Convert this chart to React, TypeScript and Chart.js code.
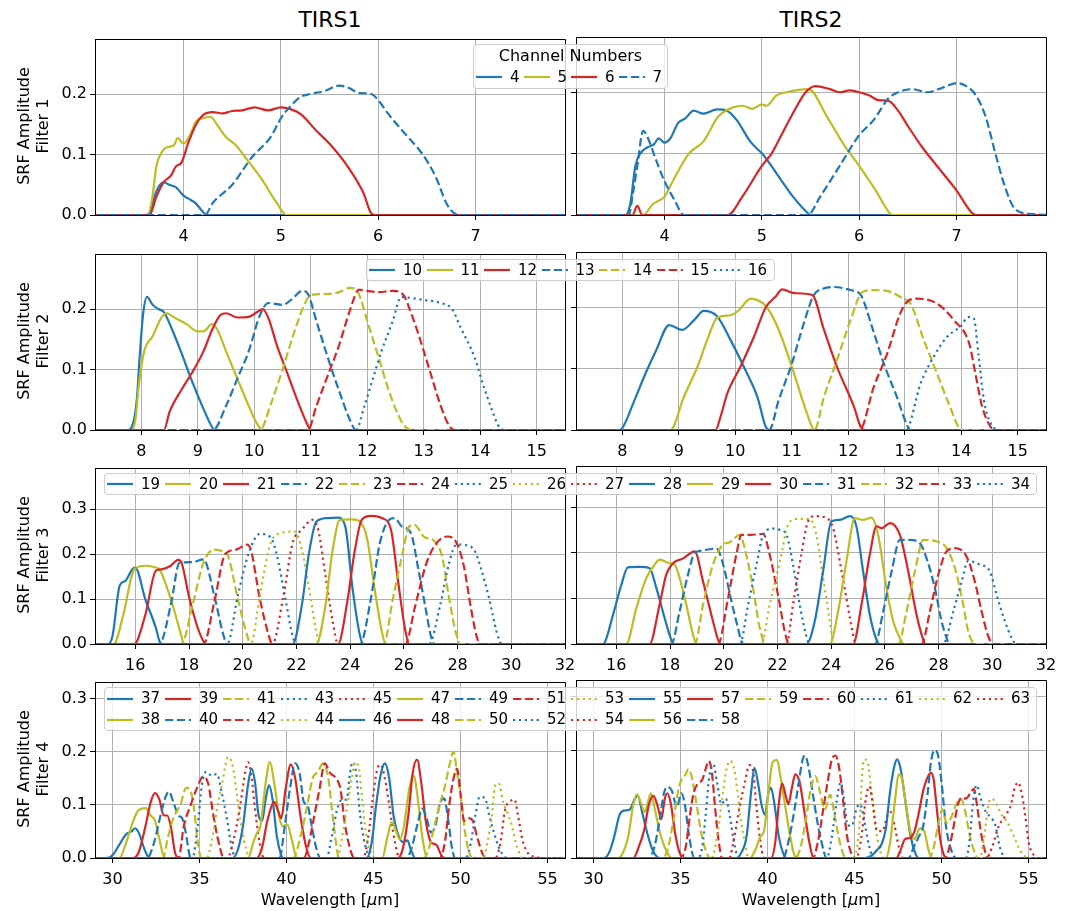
import React, { useEffect, useRef } from "react";
import { Chart, registerables } from "chart.js";
Chart.register(...registerables);

// ---------------- DATA (flat x,y pairs per channel) ----------------
const F1_CHANNELS = [4, 5, 6, 7];
const F1_XLIM = [3.09, 7.92];
const F1_YLIM = [0, 0.29];
const F1_XTICKS = [4, 5, 6, 7];
const F1_YTICKS = [0, 0.1, 0.2];
const F1_TIRS1: number[][] = [
  [3.0,0, 3.6,0, 3.66,0.005, 3.7,0.03, 3.75,0.048, 3.8,0.054, 3.85,0.05, 3.92,0.046, 4.0,0.032, 4.05,0.027, 4.12,0.02, 4.2,0.005, 4.23,0, 8.0,0],
  [3.0,0, 3.63,0, 3.68,0.03, 3.72,0.08, 3.78,0.105, 3.83,0.112, 3.9,0.115, 3.94,0.127, 4.0,0.118, 4.06,0.13, 4.13,0.155, 4.2,0.16, 4.28,0.162, 4.35,0.148, 4.43,0.13, 4.54,0.115, 4.65,0.092, 4.8,0.06, 4.95,0.022, 5.06,0, 8.0,0],
  [3.0,0, 3.65,0, 3.72,0.03, 3.8,0.055, 3.87,0.065, 3.92,0.08, 3.98,0.087, 4.05,0.12, 4.13,0.15, 4.2,0.165, 4.3,0.17, 4.4,0.168, 4.5,0.172, 4.6,0.173, 4.73,0.178, 4.87,0.173, 5.0,0.178, 5.1,0.175, 5.21,0.166, 5.36,0.14, 5.51,0.116, 5.7,0.077, 5.85,0.036, 5.92,0.005, 5.96,0, 8.0,0],
  [3.0,0, 4.22,0, 4.3,0.02, 4.5,0.05, 4.7,0.095, 4.9,0.13, 5.0,0.16, 5.1,0.18, 5.2,0.195, 5.3,0.2, 5.45,0.205, 5.6,0.214, 5.7,0.21, 5.8,0.202, 5.93,0.2, 6.0,0.19, 6.1,0.168, 6.3,0.13, 6.4,0.112, 6.5,0.09, 6.6,0.06, 6.7,0.02, 6.78,0.003, 6.85,0, 8.0,0],
];
const F1_TIRS2: number[][] = [
  [3.0,0, 3.6,0, 3.65,0.02, 3.7,0.08, 3.75,0.1, 3.82,0.11, 3.89,0.115, 3.94,0.125, 4.0,0.118, 4.06,0.125, 4.14,0.15, 4.21,0.157, 4.3,0.17, 4.4,0.165, 4.54,0.172, 4.64,0.17, 4.74,0.155, 4.88,0.12, 5.02,0.097, 5.15,0.068, 5.32,0.03, 5.48,0.002, 5.5,0, 8.0,0],
  [3.0,0, 3.78,0, 3.88,0.018, 4.0,0.03, 4.1,0.06, 4.25,0.1, 4.4,0.12, 4.55,0.16, 4.7,0.175, 4.8,0.178, 4.9,0.173, 5.0,0.18, 5.05,0.178, 5.15,0.195, 5.25,0.2, 5.48,0.205, 5.67,0.16, 5.84,0.115, 6.0,0.08, 6.17,0.04, 6.32,0.002, 6.35,0, 8.0,0],
  [3.0,0, 3.67,0, 3.72,0.015, 3.77,0, 4.65,0, 4.8,0.03, 5.0,0.08, 5.1,0.1, 5.2,0.13, 5.3,0.16, 5.45,0.2, 5.55,0.21, 5.7,0.205, 5.8,0.2, 5.9,0.203, 6.0,0.2, 6.1,0.195, 6.2,0.187, 6.3,0.186, 6.4,0.17, 6.5,0.145, 6.65,0.11, 6.85,0.07, 7.0,0.04, 7.15,0.005, 7.2,0, 8.0,0],
  [3.0,0, 3.63,0, 3.68,0.04, 3.72,0.08, 3.78,0.137, 3.83,0.125, 3.9,0.095, 4.0,0.055, 4.1,0.025, 4.2,0, 5.47,0, 5.6,0.03, 5.8,0.08, 6.0,0.13, 6.15,0.155, 6.3,0.19, 6.4,0.2, 6.55,0.205, 6.7,0.2, 6.85,0.207, 7.0,0.215, 7.1,0.21, 7.2,0.195, 7.3,0.16, 7.4,0.1, 7.5,0.045, 7.6,0.01, 7.75,0.002, 8.0,0],
];

const F2_CHANNELS = [10, 11, 12, 13, 14, 15, 16];
const F2_XLIM = [7.18, 15.5];
const F2_YLIM = [0, 0.29];
const F2_XTICKS = [8, 9, 10, 11, 12, 13, 14, 15];
const F2_YTICKS = [0, 0.1, 0.2];
const F2_TIRS1: number[][] = [
  [7.0,0, 7.75,0, 7.85,0.01, 7.92,0.05, 7.97,0.12, 8.03,0.19, 8.1,0.22, 8.2,0.207, 8.3,0.2, 8.4,0.195, 8.55,0.165, 8.7,0.13, 8.9,0.08, 9.1,0.035, 9.25,0.005, 9.3,0, 16,0],
  [7.0,0, 7.83,0, 7.9,0.02, 7.95,0.07, 8.05,0.13, 8.2,0.155, 8.35,0.185, 8.45,0.193, 8.6,0.185, 8.8,0.175, 9.0,0.163, 9.1,0.163, 9.25,0.175, 9.35,0.165, 9.5,0.13, 9.7,0.085, 9.9,0.04, 10.05,0.01, 10.15,0, 16,0],
  [7.0,0, 8.4,0, 8.5,0.03, 8.7,0.065, 8.9,0.095, 9.1,0.13, 9.25,0.165, 9.4,0.19, 9.5,0.193, 9.7,0.186, 9.9,0.187, 10.05,0.195, 10.15,0.2, 10.25,0.185, 10.4,0.14, 10.6,0.09, 10.8,0.04, 10.95,0.007, 11.0,0, 16,0],
  [7.0,0, 9.27,0, 9.5,0.04, 9.7,0.085, 9.9,0.13, 10.1,0.19, 10.25,0.21, 10.5,0.207, 10.65,0.215, 10.85,0.23, 10.95,0.225, 11.1,0.18, 11.3,0.12, 11.5,0.065, 11.7,0.015, 11.8,0, 16,0],
  [7.0,0, 10.1,0, 10.3,0.045, 10.5,0.1, 10.7,0.16, 10.9,0.21, 11.0,0.223, 11.3,0.225, 11.5,0.228, 11.7,0.235, 11.85,0.225, 12.0,0.18, 12.2,0.12, 12.4,0.06, 12.6,0.015, 12.7,0.003, 12.8,0, 16,0],
  [7.0,0, 10.95,0, 11.1,0.04, 11.3,0.09, 11.5,0.14, 11.7,0.2, 11.85,0.232, 12.0,0.23, 12.2,0.228, 12.45,0.23, 12.65,0.222, 12.75,0.2, 12.9,0.16, 13.1,0.1, 13.3,0.04, 13.45,0.007, 13.55,0, 16,0],
  [7.0,0, 11.8,0, 11.95,0.04, 12.1,0.085, 12.25,0.13, 12.45,0.18, 12.6,0.22, 12.8,0.218, 13.0,0.215, 13.3,0.21, 13.5,0.2, 13.65,0.17, 13.9,0.12, 14.05,0.075, 14.2,0.035, 14.35,0.003, 14.45,0, 16,0],
];
const F2_TIRS2: number[][] = [
  [7.0,0, 7.95,0, 8.0,0.003, 8.2,0.045, 8.41,0.092, 8.6,0.13, 8.83,0.171, 9.06,0.163, 9.27,0.179, 9.44,0.194, 9.68,0.185, 9.92,0.146, 10.15,0.103, 10.39,0.054, 10.54,0.005, 10.6,0, 16,0],
  [7.0,0, 8.85,0, 9.09,0.054, 9.33,0.103, 9.5,0.146, 9.68,0.183, 9.92,0.187, 10.06,0.195, 10.27,0.214, 10.45,0.209, 10.56,0.2, 10.77,0.163, 11.04,0.092, 11.21,0.043, 11.36,0.005, 11.4,0, 16,0],
  [7.0,0, 9.65,0, 9.74,0.022, 9.86,0.06, 10.09,0.103, 10.33,0.152, 10.54,0.2, 10.71,0.217, 10.83,0.229, 11.04,0.223, 11.36,0.22, 11.57,0.163, 11.8,0.103, 12.1,0.038, 12.22,0.005, 12.3,0, 16,0],
  [7.0,0, 10.6,0, 10.77,0.049, 11.0,0.108, 11.21,0.173, 11.39,0.22, 11.55,0.23, 11.74,0.233, 12.04,0.228, 12.22,0.22, 12.42,0.168, 12.63,0.108, 12.86,0.054, 13.04,0.008, 13.1,0, 16,0],
  [7.0,0, 11.4,0, 11.57,0.054, 11.8,0.114, 12.04,0.179, 12.25,0.225, 12.45,0.228, 12.75,0.225, 12.95,0.215, 13.1,0.206, 13.34,0.146, 13.57,0.092, 13.8,0.038, 13.96,0.003, 14.0,0, 16,0],
  [7.0,0, 12.2,0, 12.45,0.07, 12.69,0.125, 12.92,0.19, 13.07,0.211, 13.22,0.214, 13.57,0.206, 13.87,0.179, 14.14,0.141, 14.25,0.092, 14.37,0.038, 14.52,0.005, 14.6,0, 16,0],
  [7.0,0, 13.02,0, 13.28,0.076, 13.51,0.119, 13.75,0.152, 13.98,0.168, 14.13,0.184, 14.22,0.182, 14.31,0.119, 14.4,0.049, 14.52,0.011, 14.7,0, 16,0],
];

const F3_CHANNELS = [19, 20, 21, 22, 23, 24, 25, 26, 27, 28, 29, 30, 31, 32, 33, 34];
const F3_XLIM = [14.5, 32];
const F3_YLIM = [0, 0.39];
const F3_XTICKS = [16, 18, 20, 22, 24, 26, 28, 30, 32];
const F3_YTICKS = [0, 0.1, 0.2, 0.3];
const F3_TIRS1: number[][] = [
  [14,0, 15.0,0, 15.15,0.017, 15.42,0.13, 15.62,0.14, 15.89,0.166, 16.0,0.17, 16.37,0.1, 16.77,0.035, 16.9,0.006, 17.0,0, 33,0],
  [14,0, 15.2,0, 15.55,0.064, 15.96,0.166, 16.37,0.174, 16.77,0.17, 16.9,0.166, 17.32,0.1, 17.72,0.017, 17.8,0, 33,0],
  [14,0, 15.96,0, 16.37,0.064, 16.77,0.163, 16.98,0.166, 17.32,0.174, 17.59,0.187, 17.72,0.181, 17.99,0.108, 18.33,0.035, 18.54,0.006, 18.65,0, 33,0],
  [14,0, 16.9,0, 17.32,0.086, 17.65,0.181, 18.13,0.182, 18.54,0.188, 18.94,0.108, 19.28,0.02, 19.42,0, 33,0],
  [14,0, 17.72,0, 18.13,0.086, 18.54,0.181, 18.94,0.21, 19.21,0.207, 19.42,0.2, 19.82,0.1, 20.16,0.02, 20.3,0, 33,0],
  [14,0, 18.54,0, 18.94,0.093, 19.35,0.2, 19.76,0.21, 20.16,0.221, 20.3,0.21, 20.64,0.1, 20.98,0.017, 21.1,0, 33,0],
  [14,0, 19.42,0, 19.82,0.108, 20.23,0.203, 20.64,0.245, 21.04,0.237, 21.25,0.203, 21.59,0.1, 21.86,0.017, 21.99,0, 33,0],
  [14,0, 20.3,0, 20.64,0.108, 21.04,0.225, 21.45,0.247, 21.93,0.25, 22.2,0.21, 22.47,0.123, 22.74,0.028, 22.87,0, 33,0],
  [14,0, 21.1,0, 21.52,0.108, 21.86,0.225, 22.2,0.254, 22.6,0.276, 22.81,0.254, 23.08,0.152, 23.35,0.05, 23.55,0, 33,0],
  [14,0, 21.86,0, 22.2,0.086, 22.47,0.203, 22.74,0.272, 23.15,0.28, 23.55,0.281, 23.82,0.261, 24.09,0.123, 24.37,0.017, 24.5,0, 33,0],
  [14,0, 22.74,0, 23.08,0.086, 23.35,0.21, 23.62,0.276, 24.09,0.277, 24.37,0.272, 24.64,0.232, 24.91,0.123, 25.18,0.028, 25.32,0, 33,0],
  [14,0, 23.55,0, 23.89,0.093, 24.16,0.203, 24.43,0.276, 24.77,0.285, 25.18,0.28, 25.52,0.254, 25.79,0.137, 26.06,0.028, 26.2,0, 33,0],
  [14,0, 24.37,0, 24.77,0.1, 25.11,0.225, 25.45,0.276, 25.65,0.28, 25.93,0.261, 26.26,0.247, 26.54,0.166, 26.81,0.079, 27.01,0.017, 27.15,0, 33,0],
  [14,0, 25.25,0, 25.59,0.1, 25.93,0.196, 26.2,0.261, 26.4,0.265, 26.74,0.239, 27.15,0.228, 27.42,0.196, 27.69,0.1, 27.96,0.02, 28.1,0, 33,0],
  [14,0, 26.06,0, 26.4,0.079, 26.81,0.174, 27.15,0.219, 27.62,0.239, 27.96,0.225, 28.23,0.174, 28.5,0.079, 28.71,0.017, 28.84,0, 33,0],
  [14,0, 26.94,0, 27.35,0.086, 27.69,0.181, 27.96,0.221, 28.43,0.218, 28.64,0.207, 28.84,0.174, 29.18,0.1, 29.45,0.028, 29.65,0, 33,0],
];
const F3_TIRS2: number[][] = [
  [14,0, 15.5,0, 15.57,0.003, 15.88,0.064, 16.19,0.13, 16.43,0.168, 16.87,0.169, 17.24,0.166, 17.49,0.123, 17.8,0.057, 18.05,0.009, 18.15,0, 33,0],
  [14,0, 16.37,0, 16.75,0.079, 17.12,0.145, 17.43,0.174, 17.61,0.185, 17.99,0.177, 18.17,0.174, 18.55,0.1, 18.86,0.02, 18.98,0, 33,0],
  [14,0, 17.24,0, 17.61,0.086, 17.86,0.152, 18.11,0.177, 18.48,0.187, 18.92,0.203, 19.23,0.137, 19.6,0.05, 19.79,0.009, 19.9,0, 33,0],
  [14,0, 18.05,0, 18.36,0.072, 18.67,0.152, 18.92,0.2, 19.11,0.204, 19.73,0.209, 19.98,0.174, 20.29,0.093, 20.53,0.035, 20.66,0.006, 20.75,0, 33,0],
  [14,0, 18.92,0, 19.23,0.086, 19.6,0.174, 19.98,0.218, 20.22,0.223, 20.6,0.239, 20.78,0.21, 21.09,0.123, 21.34,0.035, 21.53,0.002, 21.6,0, 33,0],
  [14,0, 19.79,0, 20.16,0.1, 20.47,0.196, 20.66,0.239, 20.97,0.239, 21.47,0.241, 21.71,0.196, 22.02,0.108, 22.27,0.028, 22.4,0.002, 22.45,0, 33,0],
  [14,0, 20.6,0, 20.91,0.086, 21.22,0.174, 21.47,0.239, 21.84,0.253, 22.09,0.25, 22.34,0.239, 22.58,0.174, 22.83,0.086, 23.08,0.017, 23.2,0, 33,0],
  [14,0, 21.4,0, 21.71,0.086, 22.09,0.181, 22.4,0.261, 22.71,0.274, 23.2,0.274, 23.45,0.239, 23.7,0.145, 23.95,0.05, 24.07,0.006, 24.15,0, 33,0],
  [14,0, 22.34,0, 22.58,0.086, 22.89,0.196, 23.14,0.269, 23.39,0.28, 23.83,0.276, 24.07,0.254, 24.39,0.159, 24.7,0.057, 24.88,0.006, 24.95,0, 33,0],
  [14,0, 23.08,0, 23.39,0.05, 23.7,0.159, 24.01,0.269, 24.32,0.272, 24.7,0.28, 24.94,0.258, 25.19,0.159, 25.44,0.064, 25.69,0.009, 25.8,0, 33,0],
  [14,0, 23.95,0, 24.26,0.072, 24.57,0.181, 24.88,0.276, 25.19,0.272, 25.5,0.277, 25.75,0.239, 26.06,0.123, 26.31,0.05, 26.62,0.006, 26.7,0, 33,0],
  [14,0, 24.82,0, 25.13,0.086, 25.44,0.196, 25.69,0.258, 25.88,0.254, 26.19,0.265, 26.56,0.239, 26.87,0.159, 27.18,0.064, 27.43,0.009, 27.5,0, 33,0],
  [14,0, 25.63,0, 25.94,0.072, 26.25,0.159, 26.56,0.228, 26.93,0.228, 27.3,0.221, 27.55,0.188, 27.86,0.123, 28.11,0.05, 28.3,0.013, 28.4,0, 33,0],
  [14,0, 26.5,0, 26.81,0.072, 27.12,0.159, 27.43,0.228, 27.93,0.225, 28.3,0.21, 28.61,0.166, 28.92,0.086, 29.1,0.028, 29.29,0.002, 29.35,0, 33,0],
  [14,0, 27.37,0, 27.68,0.072, 27.99,0.152, 28.3,0.203, 28.61,0.21, 29.04,0.192, 29.35,0.137, 29.6,0.072, 29.85,0.017, 30.04,0, 33,0],
  [14,0, 28.17,0, 28.55,0.072, 28.86,0.137, 29.1,0.182, 29.54,0.174, 29.91,0.159, 30.16,0.108, 30.47,0.05, 30.72,0.013, 30.91,0, 33,0],
];

const F4_CHANNELS = [37, 38, 39, 40, 41, 42, 43, 44, 45, 46, 47, 48, 49, 50, 51, 52, 53, 54, 55, 56, 57, 58, 59, 60, 61, 62, 63];
const F4_XLIM = [29, 56];
const F4_YLIM = [0, 0.33];
const F4_XTICKS = [30, 35, 40, 45, 50, 55];
const F4_YTICKS = [0, 0.1, 0.2, 0.3];
const F4_TIRS1: number[][] = [
  [28,0, 29.7,0, 30.0,0.005, 30.4,0.025, 30.8,0.045, 31.1,0.05, 31.3,0.056, 31.55,0.045, 31.8,0.02, 32.05,0.002, 32.2,0, 57,0],
  [28,0, 30.4,0, 30.8,0.03, 31.2,0.07, 31.5,0.09, 31.9,0.094, 32.2,0.08, 32.45,0.07, 32.7,0.035, 33.0,0, 57,0],
  [28,0, 31.1,0, 31.5,0.01, 31.9,0.06, 32.2,0.105, 32.45,0.122, 32.7,0.11, 32.95,0.08, 33.15,0.08, 33.35,0.06, 33.6,0.01, 33.8,0, 57,0],
  [28,0, 32.0,0, 32.4,0.03, 32.8,0.085, 33.05,0.115, 33.25,0.125, 33.5,0.105, 33.8,0.08, 34.0,0.075, 34.2,0.05, 34.5,0, 57,0],
  [28,0, 32.9,0, 33.2,0.04, 33.5,0.075, 33.9,0.1, 34.25,0.132, 34.5,0.125, 34.7,0.09, 34.9,0.03, 35.1,0, 57,0],
  [28,0, 33.8,0, 34.1,0.06, 34.5,0.1, 34.9,0.135, 35.2,0.153, 35.5,0.14, 35.8,0.08, 36.1,0.03, 36.4,0, 57,0],
  [28,0, 34.6,0, 34.9,0.06, 35.15,0.14, 35.4,0.162, 35.7,0.155, 36.0,0.158, 36.3,0.12, 36.6,0.07, 36.85,0.02, 37.1,0, 57,0],
  [28,0, 35.4,0, 35.7,0.03, 36.0,0.09, 36.3,0.14, 36.65,0.19, 36.9,0.175, 37.15,0.12, 37.4,0.06, 37.7,0.015, 37.9,0, 57,0],
  [28,0, 36.6,0, 37.0,0.04, 37.35,0.1, 37.65,0.165, 37.8,0.18, 38.0,0.15, 38.2,0.09, 38.45,0.03, 38.7,0, 57,0],
  [28,0, 36.9,0, 37.2,0.015, 37.5,0.06, 37.8,0.14, 38.0,0.168, 38.2,0.14, 38.4,0.08, 38.6,0.07, 38.8,0.11, 39.0,0.137, 39.2,0.11, 39.45,0.04, 39.7,0.005, 39.8,0, 57,0],
  [28,0, 37.8,0, 38.1,0.03, 38.3,0.047, 38.5,0.06, 38.8,0.14, 39.05,0.181, 39.3,0.14, 39.6,0.075, 39.8,0.06, 40.05,0.063, 40.3,0.035, 40.6,0, 57,0],
  [28,0, 38.3,0, 38.6,0.02, 38.9,0.07, 39.3,0.105, 39.5,0.09, 39.7,0.075, 39.95,0.13, 40.25,0.176, 40.5,0.15, 40.8,0.08, 41.1,0.025, 41.4,0, 57,0],
  [28,0, 39.6,0, 39.9,0.06, 40.2,0.13, 40.5,0.178, 40.75,0.16, 41.0,0.105, 41.2,0.1, 41.45,0.06, 41.7,0.02, 41.95,0, 57,0],
  [28,0, 40.4,0, 40.8,0.04, 41.2,0.1, 41.5,0.15, 41.8,0.162, 42.1,0.178, 42.4,0.15, 42.65,0.08, 42.9,0.015, 43.0,0, 57,0],
  [28,0, 41.0,0, 41.3,0.03, 41.6,0.08, 41.9,0.13, 42.2,0.178, 42.5,0.16, 42.85,0.15, 43.1,0.13, 43.35,0.065, 43.7,0.012, 43.9,0, 57,0],
  [28,0, 42.3,0, 42.6,0.04, 42.9,0.09, 43.2,0.11, 43.45,0.11, 43.65,0.16, 43.8,0.18, 44.0,0.16, 44.2,0.09, 44.45,0.035, 44.7,0.005, 44.8,0, 57,0],
  [28,0, 42.9,0, 43.2,0.04, 43.5,0.1, 43.75,0.15, 43.95,0.18, 44.15,0.17, 44.35,0.11, 44.55,0.05, 44.85,0.01, 45.1,0, 57,0],
  [28,0, 44.4,0, 44.7,0.04, 44.95,0.11, 45.2,0.165, 45.4,0.176, 45.65,0.15, 45.9,0.1, 46.2,0.035, 46.5,0, 57,0],
  [28,0, 44.6,0, 44.9,0.03, 45.15,0.1, 45.4,0.155, 45.65,0.178, 45.9,0.15, 46.15,0.08, 46.4,0.045, 46.7,0.03, 46.95,0.033, 47.15,0.015, 47.4,0, 57,0],
  [28,0, 45.5,0, 45.8,0.04, 46.05,0.068, 46.3,0.05, 46.5,0.035, 46.75,0.06, 47.05,0.13, 47.3,0.155, 47.55,0.11, 47.8,0.04, 48.1,0, 57,0],
  [28,0, 46.4,0, 46.7,0.02, 47.0,0.08, 47.25,0.16, 47.5,0.185, 47.75,0.14, 48.0,0.07, 48.3,0.03, 48.6,0.025, 48.9,0.005, 49.1,0, 57,0],
  [28,0, 46.9,0, 47.2,0.02, 47.5,0.06, 47.8,0.093, 48.05,0.075, 48.3,0.048, 48.55,0.06, 48.8,0.1, 49.05,0.112, 49.3,0.07, 49.5,0.02, 49.7,0, 57,0],
  [28,0, 47.9,0, 48.2,0.02, 48.5,0.06, 48.8,0.1, 49.1,0.135, 49.4,0.18, 49.6,0.2, 49.8,0.16, 50.0,0.12, 50.25,0.05, 50.5,0.01, 50.7,0, 57,0],
  [28,0, 48.8,0, 49.1,0.03, 49.35,0.1, 49.6,0.15, 49.8,0.168, 50.0,0.12, 50.2,0.07, 50.45,0.075, 50.7,0.07, 50.95,0.04, 51.3,0.005, 51.5,0, 57,0],
  [28,0, 50.3,0, 50.6,0.03, 50.85,0.08, 51.1,0.115, 51.4,0.113, 51.65,0.08, 51.9,0.05, 52.2,0.02, 52.5,0.003, 52.7,0, 57,0],
  [28,0, 51.3,0, 51.55,0.03, 51.8,0.08, 52.0,0.138, 52.2,0.14, 52.45,0.105, 52.7,0.085, 52.95,0.06, 53.25,0.02, 53.6,0, 57,0],
  [28,0, 52.0,0, 52.3,0.03, 52.55,0.09, 52.8,0.105, 53.1,0.11, 53.3,0.08, 53.55,0.035, 53.9,0.008, 54.3,0.002, 54.7,0, 57,0],
];
const F4_TIRS2: number[][] = [
  [28,0, 30.6,0, 30.9,0.01, 31.2,0.04, 31.5,0.08, 31.8,0.088, 32.1,0.09, 32.35,0.108, 32.55,0.115, 32.8,0.085, 33.1,0.045, 33.4,0.015, 33.8,0, 57,0],
  [28,0, 31.4,0, 31.7,0.01, 32.0,0.04, 32.3,0.1, 32.5,0.118, 32.7,0.105, 32.95,0.085, 33.1,0.1, 33.3,0.12, 33.5,0.095, 33.8,0.05, 34.1,0.02, 34.5,0, 57,0],
  [28,0, 32.3,0, 32.6,0.02, 32.9,0.05, 33.2,0.1, 33.45,0.115, 33.7,0.095, 33.9,0.072, 34.1,0.11, 34.25,0.12, 34.45,0.1, 34.7,0.045, 34.95,0.01, 35.2,0, 57,0],
  [28,0, 33.2,0, 33.5,0.02, 33.8,0.07, 34.05,0.12, 34.25,0.132, 34.5,0.125, 34.8,0.095, 35.05,0.12, 35.25,0.1, 35.5,0.04, 35.8,0, 57,0],
  [28,0, 34.0,0, 34.3,0.02, 34.6,0.07, 34.9,0.13, 35.1,0.148, 35.3,0.155, 35.45,0.165, 35.65,0.15, 35.9,0.105, 36.2,0.045, 36.5,0.01, 36.7,0, 57,0],
  [28,0, 35.0,0, 35.3,0.02, 35.55,0.08, 35.75,0.12, 36.0,0.138, 36.25,0.145, 36.45,0.165, 36.62,0.18, 36.8,0.16, 37.0,0.09, 37.2,0.03, 37.4,0, 57,0],
  [28,0, 36.0,0, 36.25,0.02, 36.45,0.08, 36.65,0.15, 36.9,0.173, 37.1,0.14, 37.35,0.1, 37.6,0.11, 37.85,0.075, 38.1,0.025, 38.35,0, 57,0],
  [28,0, 36.8,0, 37.1,0.04, 37.4,0.11, 37.65,0.165, 37.85,0.18, 38.05,0.17, 38.25,0.13, 38.45,0.075, 38.7,0.03, 38.9,0, 57,0],
  [28,0, 37.8,0, 38.1,0.04, 38.4,0.095, 38.7,0.14, 38.95,0.172, 39.15,0.165, 39.35,0.1, 39.55,0.04, 39.8,0, 57,0],
  [28,0, 38.2,0, 38.5,0.01, 38.8,0.04, 39.05,0.12, 39.25,0.167, 39.45,0.14, 39.65,0.1, 39.85,0.08, 40.05,0.12, 40.2,0.13, 40.4,0.1, 40.65,0.04, 40.95,0.005, 41.1,0, 57,0],
  [28,0, 39.0,0, 39.3,0.015, 39.6,0.04, 39.8,0.05, 40.05,0.12, 40.3,0.178, 40.55,0.182, 40.75,0.15, 41.0,0.1, 41.25,0.05, 41.5,0.01, 41.7,0, 57,0],
  [28,0, 40.2,0, 40.45,0.03, 40.65,0.1, 40.85,0.138, 41.05,0.115, 41.2,0.1, 41.4,0.13, 41.6,0.155, 41.85,0.14, 42.1,0.09, 42.4,0.03, 42.65,0, 57,0],
  [28,0, 40.9,0, 41.2,0.03, 41.5,0.08, 41.8,0.14, 42.0,0.18, 42.15,0.19, 42.35,0.17, 42.6,0.12, 42.85,0.07, 43.1,0.03, 43.4,0, 57,0],
  [28,0, 41.6,0, 41.9,0.02, 42.2,0.07, 42.5,0.13, 42.75,0.152, 43.0,0.125, 43.3,0.09, 43.6,0.117, 43.85,0.08, 44.15,0.03, 44.5,0, 57,0],
  [28,0, 42.6,0, 42.9,0.03, 43.2,0.09, 43.45,0.14, 43.7,0.183, 43.9,0.19, 44.1,0.17, 44.3,0.12, 44.55,0.045, 44.8,0.01, 45.0,0, 57,0],
  [28,0, 43.4,0, 43.7,0.04, 43.95,0.1, 44.2,0.14, 44.4,0.11, 44.6,0.06, 44.85,0.06, 45.1,0.09, 45.3,0.1, 45.5,0.08, 45.75,0.035, 46.0,0.005, 46.2,0, 57,0],
  [28,0, 44.9,0, 45.15,0.02, 45.3,0.07, 45.45,0.16, 45.55,0.183, 45.75,0.178, 45.95,0.13, 46.2,0.06, 46.45,0.015, 46.7,0, 57,0],
  [28,0, 45.1,0, 45.4,0.04, 45.65,0.11, 45.85,0.133, 46.05,0.1, 46.3,0.05, 46.6,0.05, 46.9,0.08, 47.1,0.085, 47.3,0.06, 47.55,0.02, 47.8,0, 57,0],
  [28,0, 45.6,0, 46.0,0.005, 46.3,0.015, 46.55,0.025, 46.8,0.055, 47.05,0.125, 47.3,0.172, 47.45,0.183, 47.65,0.165, 47.9,0.11, 48.2,0.045, 48.5,0.008, 48.7,0, 57,0],
  [28,0, 46.8,0, 47.05,0.03, 47.3,0.1, 47.55,0.155, 47.7,0.15, 47.95,0.1, 48.2,0.05, 48.45,0.035, 48.75,0.055, 49.0,0.05, 49.25,0.015, 49.45,0, 57,0],
  [28,0, 47.4,0, 47.65,0.015, 47.9,0.035, 48.15,0.037, 48.45,0.05, 48.7,0.085, 48.95,0.125, 49.2,0.15, 49.4,0.158, 49.55,0.145, 49.7,0.1, 49.9,0.04, 50.1,0.008, 50.3,0, 57,0],
  [28,0, 48.1,0, 48.4,0.02, 48.7,0.04, 48.95,0.06, 49.2,0.12, 49.4,0.18, 49.6,0.2, 49.8,0.19, 50.0,0.14, 50.25,0.06, 50.55,0.015, 50.85,0, 57,0],
  [28,0, 49.3,0, 49.55,0.02, 49.8,0.06, 50.05,0.09, 50.3,0.065, 50.55,0.075, 50.85,0.1, 51.1,0.11, 51.3,0.095, 51.6,0.045, 51.9,0.01, 52.1,0, 57,0],
  [28,0, 50.2,0, 50.45,0.02, 50.7,0.06, 50.95,0.1, 51.15,0.112, 51.4,0.11, 51.65,0.12, 51.85,0.128, 52.05,0.095, 52.25,0.05, 52.5,0.012, 52.7,0, 57,0],
  [28,0, 51.4,0, 51.6,0.03, 51.8,0.1, 52.0,0.135, 52.25,0.11, 52.55,0.085, 52.85,0.075, 53.1,0.06, 53.35,0.02, 53.7,0, 57,0],
  [28,0, 52.2,0, 52.45,0.04, 52.7,0.1, 52.9,0.11, 53.15,0.1, 53.45,0.08, 53.8,0.065, 54.15,0.04, 54.5,0.015, 55.0,0, 57,0],
  [28,0, 52.6,0, 52.9,0.02, 53.3,0.06, 53.7,0.08, 54.0,0.1, 54.2,0.13, 54.4,0.14, 54.6,0.12, 54.8,0.08, 55.0,0.03, 55.3,0.005, 55.5,0, 57,0],
];

const INSTRUMENTS = ["TIRS1", "TIRS2"];
const FILTER_LABELS = ["Filter 1", "Filter 2", "Filter 3", "Filter 4"];
const X_LABEL = "Wavelength";

// ---------------- STYLE / LAYOUT ----------------
const FONT = "'DejaVu Sans', sans-serif";
const COLORS = ["#1f77b4", "#bcbd22", "#d62728"];
const DASHES: number[][] = [[], [8.3, 3.6], [2.2, 3.7]];
const LW = 2.2;
const GRID = "#b0b0b0";
const TICK_FS = 16;
const LABEL_FS = 16;

const COL_LEFT = [95, 576];
const BOX_W = 470;
const ROW_TOP = [37, 252, 466, 680];
const BOX_H = 178;
const PAD_T = 10, PAD_R = 22, PAD_B = 34;

Chart.defaults.font.family = FONT;

function toPoints(flat: number[]) {
  const out: { x: number; y: number }[] = [];
  for (let i = 0; i < flat.length; i += 2) out.push({ x: flat[i], y: flat[i + 1] });
  return out;
}

const framePlugin = {
  id: "frame",
  afterDatasetsDraw(chart: any) {
    const { ctx, chartArea: a } = chart;
    const al = (p: number) => Math.round(p - 0.5) + 0.5;
    ctx.save();
    ctx.strokeStyle = "#000";
    ctx.lineWidth = 1;
    ctx.beginPath();
    ctx.rect(al(a.left), al(a.top), al(a.right) - al(a.left), al(a.bottom) - al(a.top));
    ctx.stroke();
    ctx.restore();
  },
};

type PanelProps = {
  series: number[][];
  xlim: number[];
  ylim: number[];
  xticks: number[];
  yticks: number[];
  col: number;
  row: number;
};

function Panel({ series, xlim, ylim, xticks, yticks, col, row }: PanelProps) {
  const ref = useRef<HTMLCanvasElement>(null);
  const padL = col === 0 ? 60 : 8;
  const w = padL + BOX_W + PAD_R;
  const h = PAD_T + BOX_H + PAD_B;
  useEffect(() => {
    const tickFont = { family: FONT, size: TICK_FS };
    const chart = new Chart(ref.current as HTMLCanvasElement, {
      type: "line",
      data: {
        datasets: series.map((flat, i) => ({
          data: toPoints(flat),
          borderColor: COLORS[i % 3],
          borderWidth: LW,
          borderDash: DASHES[Math.floor(i / 3) % 3],
          pointRadius: 0,
          fill: false,
          cubicInterpolationMode: "monotone" as const,
          order: -i,
        })),
      },
      options: {
        animation: false,
        responsive: false,
        maintainAspectRatio: false,
        layout: { padding: { top: PAD_T, right: PAD_R, left: 0, bottom: 0 } },
        plugins: { legend: { display: false }, tooltip: { enabled: false }, title: { display: false } },
        scales: {
          x: {
            type: "linear",
            min: xlim[0],
            max: xlim[1],
            afterBuildTicks: (s: any) => { s.ticks = xticks.map((v) => ({ value: v })); },
            afterFit: (s: any) => { s.height = PAD_B; },
            grid: { color: GRID, lineWidth: 1, drawTicks: true, tickLength: 5, tickColor: "#000", tickWidth: 1 },
            border: { display: true, color: "#000", width: 1 },
            ticks: { color: "#000", font: tickFont, padding: 7, maxRotation: 0, autoSkip: false, callback: (v: any) => String(v) },
          },
          y: {
            type: "linear",
            min: ylim[0],
            max: ylim[1],
            afterBuildTicks: (s: any) => { s.ticks = yticks.map((v) => ({ value: v })); },
            afterFit: (s: any) => { s.width = padL; },
            grid: { color: GRID, lineWidth: 1, drawTicks: true, tickLength: 5, tickColor: "#000", tickWidth: 1 },
            border: { display: true, color: "#000", width: 1 },
            ticks: { display: col === 0, color: "#000", font: tickFont, padding: 3, autoSkip: false, callback: (v: any) => Number(v).toFixed(1) },
          },
        },
      } as any,
      plugins: [framePlugin],
    });
    return () => chart.destroy();
  }, []);
  return (
    <canvas
      ref={ref}
      width={w}
      height={h}
      style={{ position: "absolute", left: COL_LEFT[col] - padL, top: ROW_TOP[row] - PAD_T, width: w, height: h }}
    />
  );
}

type LegendProps = {
  channels: number[];
  left: number; top: number; width: number; height: number;
  ncol: number; colW: number; rowH: number; title?: string; titleH?: number;
};

function Legend({ channels, left, top, width, height, ncol, colW, rowH, title, titleH = 0 }: LegendProps) {
  const n = channels.length;
  const base = Math.floor(n / ncol);
  const large = n % ncol;
  const items: { ch: number; i: number; c: number; r: number }[] = [];
  let k = 0;
  for (let c = 0; c < ncol; c++) {
    const rows = c < large ? base + 1 : base;
    for (let r = 0; r < rows; r++, k++) items.push({ ch: channels[k], i: k, c, r });
  }
  return (
    <div
      style={{
        position: "absolute", left, top, width, height, boxSizing: "border-box",
        border: "1px solid #cccccc", borderRadius: 4, background: "rgba(255,255,255,0.8)",
        fontFamily: FONT, fontSize: 15, color: "#000",
      }}
    >
      {title && (
        <div style={{ position: "absolute", left: 0, top: 0, width: "100%", height: titleH, lineHeight: titleH + "px", textAlign: "center", whiteSpace: "nowrap", fontSize: 16 }}>
          {title}
        </div>
      )}
      {items.map((it) => {
        const d = DASHES[Math.floor(it.i / 3) % 3];
        return (
          <div
            key={it.ch}
            style={{ position: "absolute", left: 2 + it.c * colW, top: titleH + it.r * rowH, height: rowH, display: "flex", alignItems: "center", whiteSpace: "nowrap" }}
          >
            <svg width={26} height={10} style={{ display: "block" }}>
              <line x1={0} y1={5} x2={26} y2={5} stroke={COLORS[it.i % 3]} strokeWidth={LW} strokeDasharray={d.length ? d.join(" ") : undefined} />
            </svg>
            <span style={{ marginLeft: 8, lineHeight: rowH + "px" }}>{it.ch}</span>
          </div>
        );
      })}
    </div>
  );
}

const PANELS = [
  { row: 0, ch: F1_CHANNELS, s: [F1_TIRS1, F1_TIRS2], xlim: F1_XLIM, ylim: F1_YLIM, xt: F1_XTICKS, yt: F1_YTICKS },
  { row: 1, ch: F2_CHANNELS, s: [F2_TIRS1, F2_TIRS2], xlim: F2_XLIM, ylim: F2_YLIM, xt: F2_XTICKS, yt: F2_YTICKS },
  { row: 2, ch: F3_CHANNELS, s: [F3_TIRS1, F3_TIRS2], xlim: F3_XLIM, ylim: F3_YLIM, xt: F3_XTICKS, yt: F3_YTICKS },
  { row: 3, ch: F4_CHANNELS, s: [F4_TIRS1, F4_TIRS2], xlim: F4_XLIM, ylim: F4_YLIM, xt: F4_XTICKS, yt: F4_YTICKS },
];

export default function App() {
  return (
    <div style={{ position: "absolute", left: 0, top: 0, width: 1069, height: 911, background: "#fff", overflow: "hidden", fontFamily: FONT, color: "#000" }}>
      {INSTRUMENTS.map((name, c) => (
        <div key={name} style={{ position: "absolute", left: COL_LEFT[c], top: 6, width: BOX_W, height: 28, lineHeight: "28px", textAlign: "center", fontSize: 22 }}>
          {name}
        </div>
      ))}
      {PANELS.map((p) =>
        [0, 1].map((c) => (
          <Panel key={p.row + "-" + c} series={p.s[c]} xlim={p.xlim} ylim={p.ylim} xticks={p.xt} yticks={p.yt} col={c} row={p.row} />
        ))
      )}
      {FILTER_LABELS.map((f, r) => {
        const cy = ROW_TOP[r] + BOX_H / 2;
        return (
          <div key={f} style={{ position: "absolute", left: 33 - 100, top: cy - 19, width: 200, height: 38, lineHeight: "19px", textAlign: "center", fontSize: LABEL_FS, transform: "rotate(-90deg)", whiteSpace: "nowrap" }}>
            SRF Amplitude<br />{f}
          </div>
        );
      })}
      {[0, 1].map((c) => (
        <div key={"xl" + c} style={{ position: "absolute", left: COL_LEFT[c], top: 890, width: BOX_W, height: 20, lineHeight: "20px", textAlign: "center", fontSize: LABEL_FS, whiteSpace: "nowrap" }}>
          {X_LABEL} [<i>μ</i>m]
        </div>
      ))}
      <Legend channels={F1_CHANNELS} left={473} top={44} width={195} height={45} ncol={4} colW={47.5} rowH={22} title="Channel Numbers" titleH={21} />
      <Legend channels={F2_CHANNELS} left={366} top={259} width={409} height={22} ncol={7} colW={57.5} rowH={20} />
      <Legend channels={F3_CHANNELS} left={104} top={473} width={933} height={22} ncol={16} colW={58} rowH={20} />
      <Legend channels={F4_CHANNELS} left={104} top={687} width={933} height={44} ncol={16} colW={58} rowH={21} />
    </div>
  );
}
